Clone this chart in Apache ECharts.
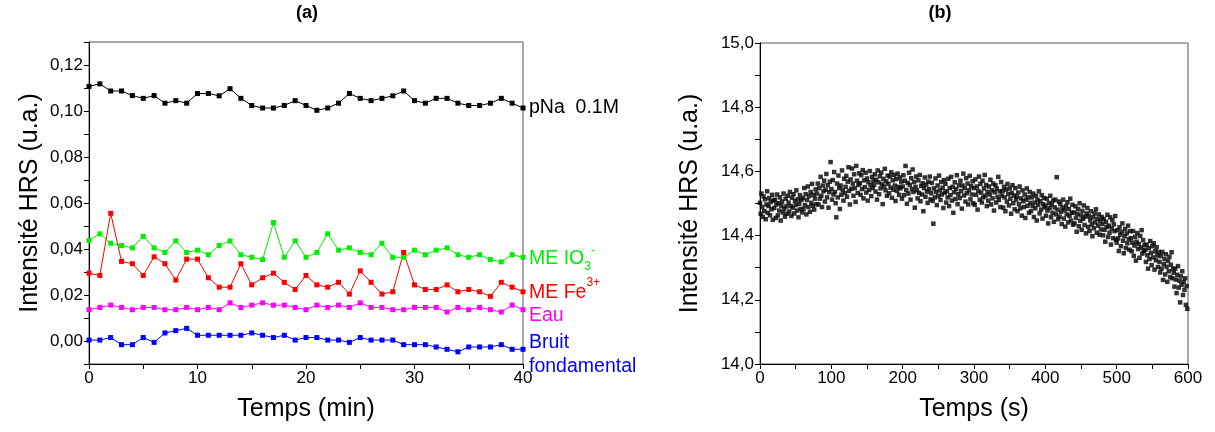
<!DOCTYPE html>
<html>
<head>
<meta charset="utf-8">
<script src="https://cdn.jsdelivr.net/npm/echarts@6.0.0/dist/echarts.min.js"></script>
<style>html,body{margin:0;padding:0;background:#fff;}#c{width:1215px;height:432px;}</style>
</head>
<body>
<div id="c"></div>
<script>
// ---------- Panel (a) data ----------
const timeA = [0,1,2,3,4,5,6,7,8,9,10,11,12,13,14,15,16,17,18,19,20,21,22,23,24,25,26,27,28,29,30,31,32,33,34,35,36,37,38,39,40];
const pNaA = [0.1107,0.1118,0.1087,0.1087,0.1067,0.1055,0.1067,0.1034,0.1045,0.1034,0.1076,0.1076,0.1066,0.1097,0.1055,0.1024,0.1013,0.1013,0.1024,0.1045,0.1024,0.1003,0.1013,0.1034,0.1076,0.1055,0.1045,0.1055,0.1066,0.1087,0.1045,0.1034,0.1055,0.1055,0.1034,0.1024,0.1024,0.1034,0.1055,0.1034,0.1013];
const io3A = [0.0437,0.0466,0.0425,0.0415,0.0405,0.0455,0.0405,0.0385,0.0435,0.0385,0.0395,0.0375,0.0415,0.0435,0.0375,0.0364,0.0354,0.0515,0.0364,0.0435,0.0364,0.0385,0.0466,0.0395,0.0405,0.0385,0.0375,0.0425,0.0364,0.0364,0.0395,0.0375,0.0395,0.0405,0.0375,0.0364,0.0375,0.0354,0.0344,0.0375,0.0364];
const fe3A = [0.0295,0.0285,0.0555,0.0346,0.0336,0.0285,0.0366,0.0336,0.0265,0.0356,0.0356,0.0275,0.0234,0.0234,0.0336,0.0244,0.0275,0.0295,0.0255,0.0224,0.0285,0.0244,0.0234,0.0255,0.0204,0.0305,0.0255,0.0204,0.0214,0.0385,0.0244,0.0224,0.0224,0.0244,0.0214,0.0224,0.0214,0.0194,0.0255,0.0234,0.0214];
const eauA = [0.0136,0.0146,0.0156,0.0146,0.0136,0.0146,0.0146,0.0136,0.0136,0.0146,0.0136,0.0146,0.0136,0.0166,0.0146,0.0156,0.0166,0.0156,0.0156,0.0146,0.0136,0.0156,0.0146,0.0156,0.0146,0.0166,0.0146,0.0146,0.0136,0.0136,0.0146,0.0146,0.0146,0.0126,0.0146,0.0136,0.0146,0.0136,0.0126,0.0156,0.0136];
const bruitA = [0.0004,0.0004,0.0015,-0.0016,-0.0016,0.0015,-0.0006,0.0035,0.0045,0.0055,0.0025,0.0025,0.0025,0.0025,0.0025,0.0035,0.0025,0.0015,0.0025,0.0004,0.0015,0.0015,0.0004,0.0004,-0.0006,0.0015,0.0004,0.0004,0.0004,-0.0016,-0.0016,-0.0016,-0.0026,-0.0036,-0.0047,-0.0026,-0.0026,-0.0026,-0.0016,-0.0036,-0.0036];
const xTicksA = [0,10,20,30,40];
const yTicksA = [0,0.02,0.04,0.06,0.08,0.10,0.12];

// ---------- Panel (b) data (one reading per second) ----------
const tStepB = 1;
const hrsB = [
14.502,14.468,14.531,14.489,14.458,14.522,14.476,14.513,14.451,14.497,14.538,14.471,14.492,14.517,14.463,14.505,14.482,14.527,14.449,14.509,
14.486,14.512,14.455,14.497,14.528,14.463,14.501,14.478,14.519,14.447,14.493,14.506,14.472,14.531,14.484,14.459,14.515,14.491,14.468,14.524,
14.503,14.475,14.536,14.492,14.461,14.518,14.487,14.529,14.469,14.508,14.495,14.541,14.478,14.513,14.457,14.499,14.526,14.483,14.511,14.472,
14.517,14.482,14.548,14.495,14.529,14.466,14.511,14.553,14.489,14.523,14.474,14.536,14.502,14.561,14.493,14.527,14.481,14.515,14.544,14.498,
14.531,14.562,14.497,14.548,14.515,14.583,14.524,14.489,14.556,14.538,14.571,14.506,14.543,14.592,14.519,14.557,14.487,14.535,14.568,14.629,
14.545,14.512,14.573,14.528,14.598,14.536,14.501,14.457,14.562,14.519,14.587,14.548,14.483,14.556,14.527,14.603,14.541,14.509,14.577,14.533,
14.552,14.586,14.521,14.568,14.613,14.539,14.497,14.575,14.546,14.609,14.562,14.524,14.591,14.548,14.505,14.617,14.571,14.533,14.558,14.594,
14.563,14.527,14.588,14.545,14.604,14.516,14.572,14.551,14.596,14.534,14.578,14.509,14.566,14.542,14.601,14.557,14.523,14.583,14.548,14.571,
14.558,14.591,14.537,14.574,14.512,14.603,14.566,14.529,14.585,14.547,14.596,14.561,14.498,14.577,14.553,14.608,14.541,14.569,14.524,14.587,
14.561,14.532,14.584,14.549,14.597,14.518,14.572,14.543,14.589,14.556,14.508,14.576,14.539,14.593,14.552,14.527,14.581,14.547,14.568,14.515,
14.553,14.588,14.526,14.571,14.617,14.542,14.499,14.564,14.531,14.596,14.558,14.512,14.579,14.545,14.606,14.536,14.567,14.487,14.552,14.584,
14.541,14.516,14.572,14.533,14.589,14.507,14.555,14.528,14.563,14.476,14.548,14.581,14.521,14.559,14.537,14.502,14.568,14.545,14.584,14.513,
14.532,14.564,14.508,14.437,14.547,14.519,14.578,14.536,14.495,14.556,14.523,14.587,14.541,14.511,14.567,14.528,14.549,14.486,14.573,14.534,
14.561,14.503,14.538,14.519,14.577,14.492,14.548,14.526,14.583,14.509,14.552,14.471,14.535,14.566,14.514,14.545,14.588,14.498,14.529,14.557,
14.517,14.571,14.539,14.484,14.556,14.593,14.525,14.548,14.506,14.579,14.532,14.562,14.497,14.541,14.586,14.513,14.554,14.528,14.569,14.501,
14.548,14.496,14.575,14.527,14.553,14.481,14.539,14.584,14.512,14.561,14.534,14.503,14.571,14.519,14.547,14.589,14.524,14.558,14.492,14.536,
14.509,14.553,14.528,14.574,14.497,14.541,14.516,14.562,14.478,14.535,14.557,14.503,14.546,14.521,14.583,14.511,14.538,14.489,14.567,14.524,
14.538,14.487,14.552,14.519,14.476,14.543,14.506,14.561,14.529,14.494,14.547,14.515,14.468,14.533,14.557,14.501,14.525,14.482,14.548,14.512,
14.521,14.476,14.534,14.498,14.553,14.485,14.516,14.462,14.541,14.507,14.489,14.528,14.455,14.512,14.547,14.493,14.519,14.471,14.536,14.502,
14.476,14.519,14.492,14.531,14.458,14.503,14.485,14.524,14.447,14.511,14.496,14.538,14.469,14.507,14.481,14.526,14.453,14.498,14.517,14.488,
14.493,14.462,14.515,14.478,14.438,14.502,14.486,14.524,14.457,14.497,14.471,14.509,14.443,14.488,14.512,14.466,14.582,14.481,14.451,14.506,
14.459,14.498,14.474,14.436,14.487,14.512,14.453,14.479,14.428,14.492,14.466,14.504,14.441,14.483,14.461,14.515,14.447,14.471,14.496,14.434,
14.472,14.438,14.491,14.455,14.412,14.468,14.483,14.429,14.501,14.446,14.463,14.418,14.477,14.452,14.494,14.433,14.459,14.407,14.469,14.486,
14.427,14.461,14.414,14.448,14.476,14.435,14.398,14.457,14.423,14.469,14.441,14.482,14.409,14.452,14.431,14.466,14.403,14.445,14.419,14.458,
14.436,14.401,14.452,14.418,14.381,14.443,14.427,14.465,14.396,14.431,14.409,14.457,14.372,14.422,14.448,14.392,14.435,14.414,14.461,14.387,
14.378,14.417,14.391,14.352,14.426,14.403,14.367,14.412,14.438,14.384,14.345,14.398,14.421,14.361,14.407,14.376,14.431,14.389,14.356,14.414,
14.392,14.351,14.378,14.414,14.337,14.369,14.396,14.322,14.381,14.408,14.358,14.374,14.331,14.399,14.363,14.417,14.344,14.386,14.352,14.371,
14.356,14.318,14.372,14.339,14.297,14.361,14.327,14.383,14.346,14.308,14.367,14.332,14.376,14.294,14.351,14.323,14.364,14.338,14.302,14.349,
14.318,14.285,14.336,14.297,14.349,14.262,14.311,14.327,14.279,14.342,14.303,14.256,14.321,14.289,14.334,14.271,14.309,14.348,14.267,14.296,
14.284,14.241,14.297,14.263,14.221,14.278,14.305,14.238,14.259,14.192,14.273,14.247,14.289,14.215,14.256,14.231,14.267,14.184,14.243,14.172
];
const xTicksB = [0,100,200,300,400,500,600];
const yTicksB = [14.0,14.2,14.4,14.6,14.8,15.0];

const FONT = 'Liberation Sans, Arial, sans-serif';
const LBL = 19.5;
const chart = echarts.init(document.getElementById('c'), null, {renderer:'canvas'});

function pairs(xs, ys){ return ys.map((v,i)=>[xs[i], v]); }

function lineSeries(name, ys, color, endLabel){
  return {
    name, type:'line', xAxisIndex:0, yAxisIndex:0,
    data: pairs(timeA, ys),
    symbol:'rect', symbolSize:5,
    itemStyle:{color},
    lineStyle:{color, width:1},
    endLabel: Object.assign({show:true, distance:6, color, fontSize:LBL, fontFamily:FONT}, endLabel),
    z:3
  };
}

const axisCommon = {
  axisLine:{show:true, onZero:false, lineStyle:{color:'#000', width:1}},
  axisTick:{show:true, inside:false, length:5, lineStyle:{color:'#000'}},
  splitLine:{show:false},
  nameTextStyle:{fontSize:25, color:'#000', fontFamily:FONT},
};

const option = {
  animation:false,
  backgroundColor:'#fff',
  textStyle:{fontFamily:FONT},
  graphic:[
    {type:'text', x:307, y:13, style:{text:'(a)', align:'center', verticalAlign:'middle', font:'bold 18px '+FONT, fill:'#000'}},
    {type:'text', x:940, y:13, style:{text:'(b)', align:'center', verticalAlign:'middle', font:'bold 18px '+FONT, fill:'#000'}}
  ],
  grid:[
    {left:89, top:42, width:434, height:322, show:true, borderColor:'#555', borderWidth:1, backgroundColor:'transparent'},
    {left:760, top:43, width:428, height:321, show:true, borderColor:'#555', borderWidth:1, backgroundColor:'transparent'}
  ],
  xAxis:[
    Object.assign({}, axisCommon, {gridIndex:0, type:'value', min:0, max:40, interval:5,
      name:'Temps (min)', nameLocation:'middle', nameGap:33,
      axisLabel:{customValues:xTicksA, formatter:v=>String(v), fontSize:17, color:'#000', margin:6, fontFamily:FONT}}),
    Object.assign({}, axisCommon, {gridIndex:1, type:'value', min:0, max:600, interval:50,
      name:'Temps (s)', nameLocation:'middle', nameGap:33,
      axisLabel:{customValues:xTicksB, formatter:v=>String(v), fontSize:17, color:'#000', margin:6, fontFamily:FONT}})
  ],
  yAxis:[
    Object.assign({}, axisCommon, {gridIndex:0, type:'value', min:-0.01, max:0.13, interval:0.01,
      name:'Intensité HRS (u.a.)', nameLocation:'middle', nameGap:46,
      axisLabel:{customValues:yTicksA, formatter:v=>v.toFixed(2).replace('.', ','), fontSize:17, color:'#000', margin:6, fontFamily:FONT}}),
    Object.assign({}, axisCommon, {gridIndex:1, type:'value', min:14.0, max:15.0, interval:0.1,
      name:'Intensité HRS (u.a.)', nameLocation:'middle', nameGap:57,
      axisLabel:{customValues:yTicksB, formatter:v=>v.toFixed(1).replace('.', ','), fontSize:17, color:'#000', margin:6, fontFamily:FONT}})
  ],
  series:[
    lineSeries('pNa 0.1M', pNaA, '#000000', {formatter:'pNa  0.1M'}),
    lineSeries('ME IO3-', io3A, '#00ee00', {
      formatter:'{m|ME IO}{sub|3}{sup|-}',
      rich:{
        m:{fontSize:LBL, color:'#00ee00', fontFamily:FONT, lineHeight:28, verticalAlign:'middle'},
        sub:{fontSize:12, color:'#00ee00', fontFamily:FONT, verticalAlign:'bottom', lineHeight:12},
        sup:{fontSize:12, color:'#00ee00', fontFamily:FONT, verticalAlign:'top', lineHeight:12}
      },
      offset:[0,1]
    }),
    lineSeries('ME Fe3+', fe3A, '#ff0000', {
      formatter:'{m|ME Fe}{sup|3+}',
      rich:{
        m:{fontSize:LBL, color:'#ff0000', fontFamily:FONT, lineHeight:26, verticalAlign:'bottom'},
        sup:{fontSize:12, color:'#ff0000', fontFamily:FONT, verticalAlign:'top', lineHeight:12}
      },
      offset:[0,-2]
    }),
    lineSeries('Eau', eauA, '#ff00ff', {formatter:'Eau', offset:[0,6]}),
    lineSeries('Bruit fondamental', bruitA, '#0000ff', {formatter:'Bruit\nfondamental', lineHeight:24, offset:[0,5]}),
    {
      name:'HRS', type:'scatter', xAxisIndex:1, yAxisIndex:1,
      data: hrsB.map((v,i)=>[i*tStepB, v]),
      symbol:'rect', symbolSize:4.5,
      itemStyle:{color:'#000'},
      z:3
    }
  ]
};
chart.setOption(option);
</script>
</body>
</html>
